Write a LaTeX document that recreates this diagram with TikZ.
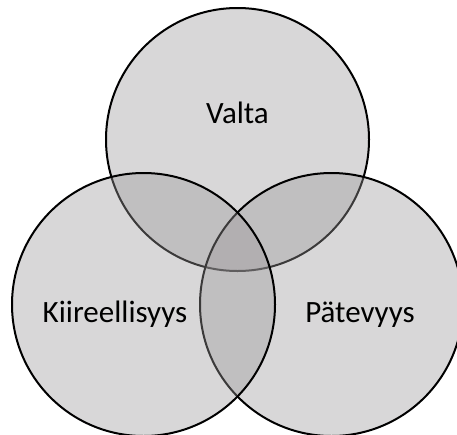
\documentclass[tikz,border=0pt]{standalone}
\usepackage{fontspec}
\setmainfont{Carlito}
\definecolor{vennfill}{RGB}{154,151,153}
\begin{document}
\begin{tikzpicture}[x=1pt,y=1pt,
  venn/.style={circle, draw=black, line width=2pt, fill=vennfill, fill opacity=0.385, draw opacity=1, minimum size=263pt, inner sep=0pt},
  lbl/.style={font=\fontsize{31}{36}\selectfont, text=black, anchor=base, inner sep=0pt}]
\useasboundingbox (0,0) rectangle (457,-434);
\node[venn] (top) at (237.5,-139.5) {};
\node[venn] (right) at (331.5,-304.5) {};
\node[venn] (left) at (143.5,-304.5) {};
\node[lbl] (valta) at (237.5,-123) {Valta};
\node[lbl] (kiire) at (115,-322) {Kiireellisyys};
\node[lbl] (pate) at (360,-322) {Pätevyys};
\end{tikzpicture}
\end{document}
